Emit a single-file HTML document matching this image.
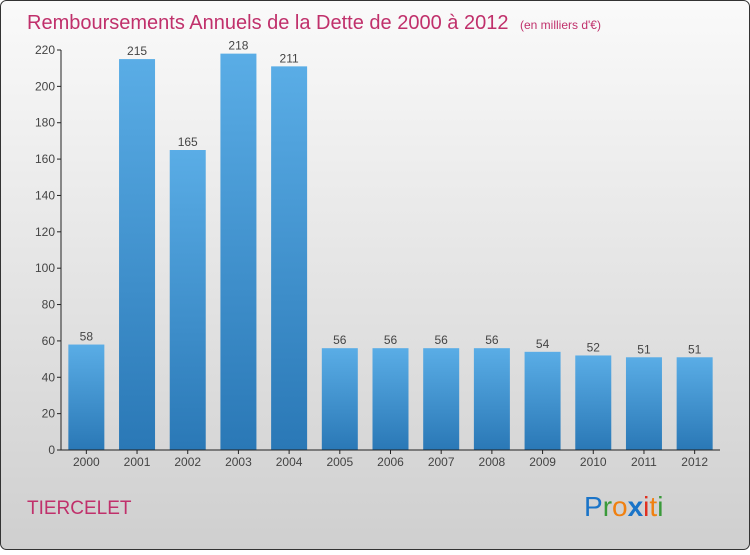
<!DOCTYPE html>
<html><head><meta charset="utf-8"><style>
body{margin:0;width:750px;height:550px;overflow:hidden;font-family:"Liberation Sans",sans-serif}
</style></head><body>
<svg id="c" width="750" height="550" xmlns="http://www.w3.org/2000/svg">
<defs>
<linearGradient id="bg" x1="0" y1="0" x2="0" y2="1"><stop offset="0" stop-color="#fafafa"/><stop offset="1" stop-color="#cfcfcf"/></linearGradient>
<linearGradient id="bar" x1="0" y1="0" x2="0" y2="1"><stop offset="0" stop-color="#5aade6"/><stop offset="1" stop-color="#2a78b6"/></linearGradient>
</defs>
<rect x="0.5" y="0.5" width="749" height="549" rx="6" fill="url(#bg)" stroke="#333"/>
<text x="27" y="29" font-size="20" fill="#c0306b">Remboursements Annuels de la Dette de 2000 à 2012 <tspan font-size="12" dx="6">(en milliers d'€)</tspan></text>
<g id="plot"></g>
<text x="27" y="514" font-size="19" fill="#c0306b">TIERCELET</text>
<g font-size="28" font-family="'Liberation Sans',sans-serif">
<text x="584" y="516"><tspan fill="#1a74c8">P</tspan><tspan fill="#3a9a3a">r</tspan><tspan fill="#f08010">o</tspan><tspan fill="#1a74c8" font-weight="bold">x</tspan><tspan fill="#e03020">i</tspan><tspan fill="#f08010">t</tspan><tspan fill="#3a9a3a">i</tspan></text>
</g>
</svg>
<script>
const years=["2000","2001","2002","2003","2004","2005","2006","2007","2008","2009","2010","2011","2012"];
const values=[58,215,165,218,211,56,56,56,56,54,52,51,51];
const ticks=[0,20,40,60,80,100,120,140,160,180,200,220];
const NS="http://www.w3.org/2000/svg";
const g=document.getElementById('plot');
const y0=450,yTop=50,vMax=220,x0=61,x1=720;
const ys=v=>y0-(v/vMax)*(y0-yTop);
const step=(x1-x0)/years.length;
const xc=i=>x0+step*(i+0.5);
function el(t,a){const e=document.createElementNS(NS,t);for(const k in a)e.setAttribute(k,a[k]);g.appendChild(e);return e;}
ticks.forEach(t=>{
  const y=ys(t);
  const l=el('line',{x1:x0-4,x2:x0,y1:y,y2:y,stroke:'#222'});
  
  
  const tx=el('text',{x:x0-6,y:y+4,'text-anchor':'end','font-size':12,fill:'#444'});
  tx.textContent=t;
  
  
});
years.forEach((yr,i)=>{
  const v=values[i],x=xc(i),w=36;
  const r=el('rect',{x:x-w/2,y:ys(v),width:w,height:y0-ys(v),fill:'url(#bar)'});
  
  
  const vl=el('text',{x:x,y:ys(v)-4,'text-anchor':'middle','font-size':12,fill:'#444'});
  vl.textContent=v;
  
  
  const tk=el('line',{x1:x,x2:x,y1:y0,y2:y0+4,stroke:'#222'});
  
  
  const xl=el('text',{x:x,y:y0+16,'text-anchor':'middle','font-size':12,fill:'#444'});
  xl.textContent=yr;
  
  
});
const ya=el('line',{x1:x0,x2:x0,y1:yTop,y2:y0,stroke:'#222'});


const xa=el('line',{x1:x0,x2:x1,y1:y0,y2:y0,stroke:'#222'});


</script>
</body></html>
